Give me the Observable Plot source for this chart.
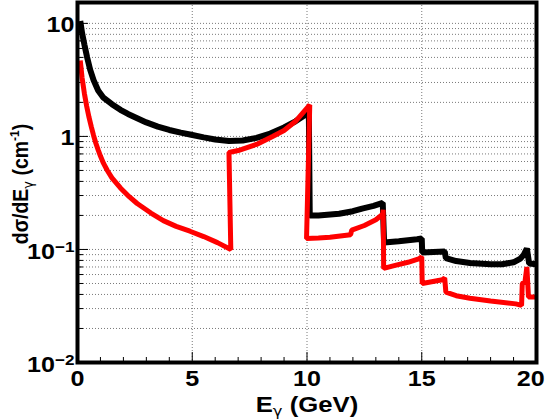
<!DOCTYPE html>
<html><head><meta charset="utf-8">
<script src="https://cdn.jsdelivr.net/npm/d3@7"></script>
<script src="https://cdn.jsdelivr.net/npm/@observablehq/plot@0.6"></script>
<style>
html,body{margin:0;padding:0;background:#fff;}
#chart svg{display:block;}
</style></head><body><div id="chart"></div>
<script>
// Total cross section (black) and partial (red): photon energy (GeV) vs dσ/dEγ (cm^-1)
const blackE = [0.12, 0.2, 0.3, 0.42, 0.55, 0.7, 0.9, 1.13, 1.5, 1.87, 2.2, 2.6, 3.0, 3.5, 4.0, 4.5, 4.9, 5.5, 6.0, 6.6, 7.2, 7.8, 8.4, 9.0, 9.5, 10.08, 10.12, 10.5, 11.4, 12.0, 12.4, 12.9, 13.3, 13.36, 14.0, 14.8, 15.0, 15.02, 16.0, 16.05, 16.5, 17.1, 18.0, 18.5, 19.0, 19.3, 19.45, 19.58, 19.68, 20.0];
const blackV = [10.5, 8.2, 6.5, 5.0, 3.9, 3.15, 2.55, 2.2, 1.93, 1.72, 1.58, 1.45, 1.33, 1.22, 1.14, 1.08, 1.04, 0.98, 0.94, 0.91, 0.92, 0.97, 1.06, 1.2, 1.36, 1.63, 0.2, 0.2, 0.207, 0.218, 0.23, 0.243, 0.258, 0.115, 0.118, 0.123, 0.125, 0.094, 0.096, 0.084, 0.079, 0.076, 0.074, 0.074, 0.077, 0.083, 0.09, 0.102, 0.075, 0.074];

const redE = [0.12, 0.2, 0.3, 0.4, 0.5, 0.6, 0.7, 0.8, 0.9, 1.0, 1.13, 1.3, 1.5, 1.87, 2.2, 2.6, 3.2, 3.74, 4.3, 4.9, 5.5, 6.1, 6.68, 6.6, 7.0, 7.8, 8.5, 9.0, 9.5, 10.12, 9.98, 10.5, 11.0, 11.9, 11.95, 12.5, 13.0, 13.3, 13.32, 13.34, 13.8, 14.4, 14.9, 15.0, 15.02, 15.9, 16.0, 16.05, 16.5, 17.1, 18.0, 19.1, 19.35, 19.38, 19.5, 19.58, 19.65, 20.0];
const redV = [4.7, 3.3, 2.4, 1.85, 1.48, 1.22, 1.02, 0.87, 0.76, 0.67, 0.58, 0.5, 0.43, 0.35, 0.3, 0.255, 0.21, 0.18, 0.16, 0.145, 0.13, 0.115, 0.1, 0.72, 0.75, 0.85, 1.0, 1.13, 1.36, 1.9, 0.125, 0.126, 0.128, 0.135, 0.148, 0.163, 0.183, 0.205, 0.225, 0.068, 0.072, 0.077, 0.083, 0.086, 0.05, 0.054, 0.056, 0.042, 0.039, 0.037, 0.035, 0.033, 0.032, 0.05, 0.052, 0.07, 0.038, 0.038];

const xMajorTicks = [0, 5, 10, 15, 20];
const xTickLabels = ["0", "5", "10", "15", "20"];
const xMinorTicks = [1, 2, 3, 4, 6, 7, 8, 9, 11, 12, 13, 14, 16, 17, 18, 19];
const xGridTicks = [5, 10, 15];
const yMajorTicks = [0.01, 0.1, 1, 10];
const yTickLabels = ["10^−2", "10^−1", "1", "10"];
const yMinorTicks = [0.02, 0.03, 0.04, 0.05, 0.06, 0.07, 0.08, 0.09,
                     0.2, 0.3, 0.4, 0.5, 0.6, 0.7, 0.8, 0.9,
                     2, 3, 4, 5, 6, 7, 8, 9];
const yGridTicks = yMajorTicks.concat(yMinorTicks);

const xTitle = ["E", "γ", " (GeV)"];
const yTitle = ["dσ/dE", "γ", " (cm", "-1", ")"];

const black = blackE.map((e, i) => ({E: e, v: blackV[i]}));
const red = redE.map((e, i) => ({E: e, v: redV[i]}));

const FONT = "'Liberation Sans', Arial, Helvetica, sans-serif";
const GREEK = "'DejaVu Sans', 'Liberation Sans', sans-serif";
const gridStyle = {stroke: "#7a7a7a", strokeOpacity: 1, strokeWidth: 1, strokeDasharray: "1,2"};

const chart = Plot.plot({
  width: 548, height: 419,
  marginLeft: 77, marginRight: 12, marginTop: 2, marginBottom: 57,
  style: {fontFamily: FONT, fontWeight: "bold", fontSize: "22px", background: "white", color: "black", overflow: "visible"},
  x: {domain: [0, 20]},
  y: {type: "log", domain: [0.01, 15.3]},
  marks: [
    Plot.gridX(xGridTicks, gridStyle),
    Plot.gridY(yGridTicks, gridStyle),
    Plot.axisX(xMinorTicks, {tickSize: -5, fill: "none", stroke: "black", label: null}),
    Plot.axisX(xMajorTicks, {tickSize: -10, fill: "none", stroke: "black", label: null}),
    Plot.axisX(xMajorTicks, {tickSize: 0, tickPadding: 8, label: null, fill: "black",
      tickFormat: d => xTickLabels[xMajorTicks.indexOf(d)]}),
    Plot.axisY(yMinorTicks, {tickSize: -6, fill: "none", stroke: "black", label: null}),
    Plot.axisY(yMajorTicks, {tickSize: -11, fill: "none", stroke: "black", label: null}),
    Plot.axisY(yMajorTicks, {tickSize: 0, tickPadding: 3, label: null, fill: "black", dy: 2,
      tickFormat: d => yTickLabels[yMajorTicks.indexOf(d)]}),
    Plot.line(black, {x: "E", y: "v", stroke: "black", strokeWidth: 6, strokeLinejoin: "miter", strokeLinecap: "butt"}),
    Plot.line(red, {x: "E", y: "v", stroke: "#ff0000", strokeWidth: 5, strokeLinejoin: "miter", strokeLinecap: "butt"}),
    Plot.frame({stroke: "black", strokeWidth: 4})
  ]
});

const svg = d3.select(chart);
const SX = 1.14; // horizontal stretch of the reference's lettering
// superscripts for tick labels like 10^−1, and widen tick labels
svg.selectAll('g[aria-label="y-axis tick label"] text, g[aria-label="x-axis tick label"] text').each(function () {
  const t = d3.select(this);
  const s = t.text();
  if (s.includes("^")) {
    const [base, exp] = s.split("^");
    t.text(null);
    t.append("tspan").text(base);
    t.append("tspan").attr("dy", "-0.45em").style("font-size", "15px").text(exp);
  }
  if (s === xTickLabels[xTickLabels.length - 1]) t.attr("dx", -5);
  const tr = t.attr("transform") || "";
  t.attr("transform", tr + ` scale(${SX},1)`);
});

// axis titles
const xt = svg.append("text")
  .attr("transform", `translate(307,412) scale(${SX + 0.03},1)`)
  .attr("text-anchor", "middle")
  .style("font-family", FONT).style("font-weight", "bold").style("font-size", "22px");
xt.append("tspan").text(xTitle[0]);
xt.append("tspan").attr("dy", 4).style("font-family", GREEK).style("font-weight", "normal").style("font-size", "14px").text(xTitle[1]);
xt.append("tspan").attr("dy", -4).text(xTitle[2]);

const yt = svg.append("text")
  .attr("transform", `translate(28,184) rotate(-90) scale(1,${SX})`)
  .attr("text-anchor", "middle")
  .style("font-family", FONT).style("font-weight", "bold").style("font-size", "19.5px");
yt.append("tspan").text(yTitle[0]);
yt.append("tspan").attr("dy", 4).style("font-family", GREEK).style("font-weight", "normal").style("font-size", "13px").text(yTitle[1]);
yt.append("tspan").attr("dy", -4).text(yTitle[2]);
yt.append("tspan").attr("dy", -8).style("font-size", "12px").text(yTitle[3]);
yt.append("tspan").attr("dy", 8).text(yTitle[4]);

document.getElementById("chart").appendChild(chart);
</script>
</body></html>
